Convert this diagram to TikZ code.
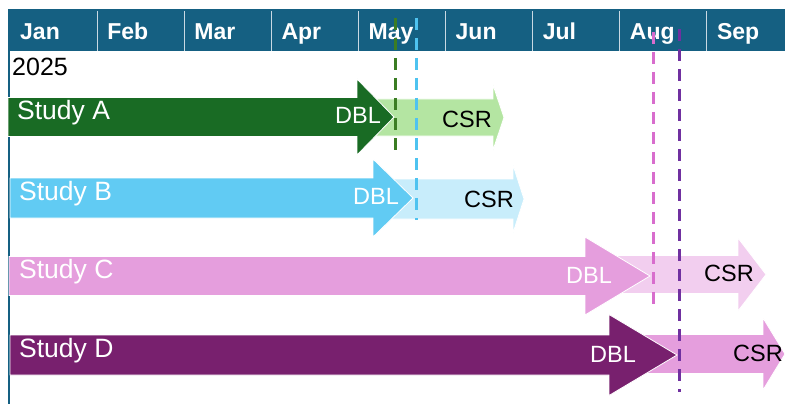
\documentclass[tikz,border=0pt]{standalone}
\usepackage{fontspec}
\setmainfont{Liberation Sans}
\definecolor{gntHead}{HTML}{156082}
\definecolor{gntRule}{HTML}{C9D9E3}
\definecolor{gntGreen}{HTML}{196B24}
\definecolor{gntGreenPale}{HTML}{B4E5A2}
\definecolor{gntGreenCut}{HTML}{3B7D23}
\definecolor{gntBlue}{HTML}{61CBF3}
\definecolor{gntBluePale}{HTML}{C8EDFB}
\definecolor{gntBlueCut}{HTML}{4EC3F0}
\definecolor{gntPink}{HTML}{E59EDD}
\definecolor{gntPinkPale}{HTML}{F2CEEF}
\definecolor{gntPinkCut}{HTML}{D86DCD}
\definecolor{gntPlum}{HTML}{78206E}
\definecolor{gntPurpleCut}{HTML}{7030A0}
\tikzset{
  gnt month/.style={anchor=base west, inner sep=0pt, text=white, font=\fontsize{23}{26}\selectfont\bfseries},
  gnt year/.style={anchor=base west, inner sep=0pt, text=black, font=\fontsize{25}{28}\selectfont},
  gnt study/.style={anchor=base west, inner sep=0pt, text=white, font=\fontsize{26.5}{30}\selectfont},
  gnt dbl/.style={anchor=base, inner sep=0pt, text=white, font=\fontsize{23.5}{26}\selectfont},
  gnt csr/.style={anchor=base, inner sep=0pt, text=black, font=\fontsize{23.5}{26}\selectfont},
  gnt rule/.style={draw=gntRule, line width=1pt},
  gnt axis/.style={draw=gntHead, line width=2pt},
  gnt cut/.style={dash pattern=on 12pt off 8pt, line width=3pt},
  gnt shape/.style={draw=white, line width=0.8pt},
}
% #1 fill, #2 start, #3 head base, #4 tip, #5 mid y, #6 half body, #7 half head
\newcommand{\gntarrow}[7]{%
  \filldraw[gnt shape, fill=#1] (#2,{#5-#6}) -- (#3,{#5-#6}) -- (#3,{#5-#7})
    -- (#4,#5) -- (#3,{#5+#7}) -- (#3,{#5+#6}) -- (#2,{#5+#6}) -- cycle;}

\begin{document}
\begin{tikzpicture}[x=1pt, y=-1pt]
  \useasboundingbox (0,0) rectangle (785,404);
  % ----- month header -----
  \fill[gntHead] (8,9.5) rectangle (785,51.5);
  \foreach \i in {1,...,8}
    \draw[gnt rule] ({10+87*\i},11) -- ({10+87*\i},51);
  \foreach \m [count=\i from 0] in {Jan,Feb,Mar,Apr,May,Jun,Jul,Aug,Sep}
    \node[gnt month] (m\m) at ({20+87.1*\i},40) {\m};
  \node[gnt year] (year) at (12,76) {2025};
  \draw[gnt axis] (9,51) -- (9,404);
  % ----- Study A -----
  \gntarrow{gntGreenPale}{357}{493}{504}{117.5}{18.5}{32.5}
  \gntarrow{gntGreen}{8}{357}{394}{117}{19.5}{38}
  \node[gnt study] (studyA) at (17,119) {Study A};
  \node[gnt dbl] (dblA) at (358,123) {DBL};
  \node[gnt csr] (csrA) at (467,128) {CSR};
  % ----- Study B -----
  \gntarrow{gntBluePale}{373}{513}{524}{199}{20}{34}
  \gntarrow{gntBlue}{10}{373}{413}{198}{20}{39}
  \node[gnt study] (studyB) at (19,200) {Study B};
  \node[gnt dbl] (dblB) at (376,204) {DBL};
  \node[gnt csr] (csrB) at (489,207) {CSR};
  % ----- Study C -----
  \gntarrow{gntPinkPale}{585}{738}{766}{274.5}{19}{36.5}
  \gntarrow{gntPink}{9}{585}{650}{276}{19.5}{39}
  \node[gnt study] (studyC) at (19,278) {Study C};
  \node[gnt dbl] (dblC) at (589,283) {DBL};
  \node[gnt csr] (csrC) at (729,281) {CSR};
  % ----- Study D -----
  \gntarrow{gntPink}{609}{763}{785}{354}{19.5}{36}
  \gntarrow{gntPlum}{10}{609}{677}{355}{20}{40.5}
  \node[gnt study] (studyD) at (19,357) {Study D};
  \node[gnt dbl] (dblD) at (613,362) {DBL};
  \node[gnt csr] (csrD) at (758,361) {CSR};
  % ----- cut-off lines -----
  \draw[gnt cut, draw=gntGreenCut] (395,18) -- (395,150);
  \draw[gnt cut, draw=gntBlueCut] (416,18) -- (416,220);
  \draw[gnt cut, draw=gntPinkCut] (653,32) -- (653,305);
  \draw[gnt cut, draw=gntPurpleCut] (679,29) -- (679,392);
\end{tikzpicture}
\end{document}
